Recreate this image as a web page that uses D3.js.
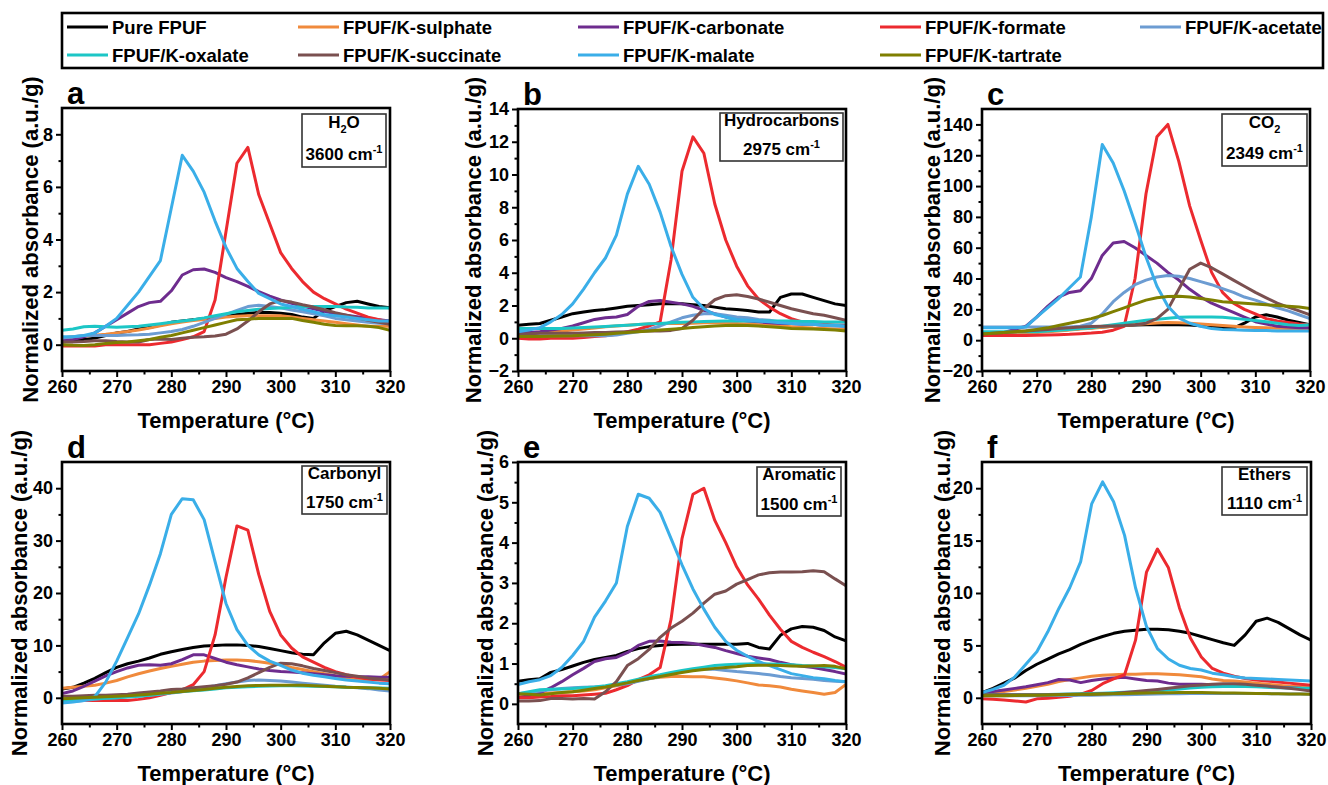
<!DOCTYPE html>
<html>
<head>
<meta charset="utf-8">
<script src="https://cdn.jsdelivr.net/npm/d3@7"></script>
<style>
  html, body { margin: 0; padding: 0; background: #fff; }
  svg { display: block; font-family: "Liberation Sans", Arial, sans-serif; font-weight: bold; }
</style>
</head>
<body>
<svg id="chart" width="1328" height="785"></svg>
<script>
// ---------------- DATA ----------------
const temps = [260,262,264,266,268,270,272,274,276,278,280,282,284,286,288,290,292,294,296,298,300,302,304,306,308,310,312,314,316,318,320];

const seriesNames = ["Pure FPUF","FPUF/K-sulphate","FPUF/K-carbonate","FPUF/K-formate","FPUF/K-acetate",
                     "FPUF/K-oxalate","FPUF/K-succinate","FPUF/K-malate","FPUF/K-tartrate"];
const seriesColors = ["#000000","#F08A3C","#6E2C8E","#EC2A2F","#6C9CD2","#1CC6C6","#7A5050","#3AAEE8","#7F7F00"];

const xTicks = [260,270,280,290,300,310,320];
const xMinor = [265,275,285,295,305,315];

// a: H2O 3600 cm-1  (order: pure, sulphate, carbonate, formate, acetate, oxalate, succinate, malate, tartrate)
const h2oVals = [
  [0.1,0.15,0.2,0.25,0.35,0.45,0.5,0.6,0.65,0.75,0.85,0.9,0.95,1.0,1.05,1.1,1.15,1.2,1.22,1.22,1.2,1.15,1.05,1.0,1.3,1.45,1.6,1.65,1.55,1.45,1.4],
  [0.25,0.3,0.33,0.36,0.4,0.45,0.5,0.56,0.63,0.72,0.8,0.86,0.92,0.96,1.0,1.05,1.08,1.1,1.1,1.1,1.1,1.05,1.0,0.95,0.9,0.85,0.8,0.75,0.7,0.7,0.7],
  [0.15,0.2,0.3,0.45,0.7,0.95,1.2,1.45,1.6,1.65,2.05,2.65,2.85,2.88,2.75,2.55,2.4,2.22,2.02,1.85,1.7,1.57,1.47,1.37,1.27,1.18,1.12,1.06,1.0,0.95,0.9],
  [-0.05,-0.05,-0.05,-0.05,0,0,0,0,0,0.05,0.1,0.2,0.3,0.5,1.7,4.3,6.9,7.5,5.7,4.6,3.5,2.9,2.4,2.0,1.75,1.55,1.35,1.2,1.05,0.95,0.85],
  [0.25,0.3,0.35,0.35,0.35,0.35,0.37,0.38,0.4,0.45,0.5,0.58,0.7,0.85,1.0,1.15,1.3,1.45,1.5,1.45,1.4,1.32,1.25,1.18,1.1,1.0,0.95,0.9,0.85,0.82,0.8],
  [0.55,0.6,0.68,0.7,0.68,0.66,0.68,0.7,0.75,0.8,0.85,0.9,0.95,1.02,1.1,1.18,1.25,1.3,1.35,1.38,1.4,1.42,1.45,1.45,1.45,1.45,1.43,1.42,1.4,1.4,1.4],
  [0.1,0.1,0.12,0.15,0.15,0.12,0.1,0.1,0.2,0.22,0.2,0.25,0.28,0.3,0.33,0.4,0.6,0.9,1.25,1.55,1.68,1.62,1.52,1.43,1.33,1.22,1.12,1.02,0.93,0.85,0.78],
  [0.3,0.3,0.35,0.45,0.7,1.0,1.5,2.0,2.6,3.2,5.2,7.2,6.6,5.8,4.7,3.7,2.9,2.4,1.95,1.75,1.55,1.45,1.35,1.25,1.15,1.1,1.05,1.0,0.95,0.9,0.9],
  [0,-0.02,-0.03,0,0.05,0.08,0.1,0.15,0.2,0.28,0.35,0.45,0.55,0.65,0.75,0.85,0.95,0.97,1.0,1.0,1.0,1.0,0.92,0.85,0.78,0.73,0.72,0.72,0.7,0.65,0.55]
];

// b: Hydrocarbons 2975 cm-1
const hydroVals = [
  [0.8,0.85,0.9,1.1,1.3,1.5,1.6,1.7,1.75,1.85,1.95,2.0,2.05,2.1,2.1,2.1,2.05,2.0,1.9,1.8,1.75,1.7,1.6,1.6,2.5,2.7,2.7,2.5,2.3,2.1,2.0],
  [0.3,0.33,0.37,0.4,0.45,0.5,0.57,0.63,0.7,0.75,0.8,0.84,0.87,0.9,0.9,0.9,0.92,0.94,0.95,0.93,0.9,0.87,0.83,0.8,0.75,0.7,0.66,0.62,0.6,0.57,0.55],
  [0.3,0.35,0.4,0.5,0.6,0.75,0.95,1.15,1.25,1.3,1.45,1.95,2.25,2.3,2.2,2.1,1.95,1.7,1.5,1.3,1.15,1.05,1.0,0.95,0.9,0.9,0.85,0.85,0.8,0.8,0.8],
  [0,-0.05,-0.05,0,0,0,0.05,0.1,0.15,0.25,0.4,0.55,0.75,1.0,4.8,10.2,12.3,11.3,8.2,6.0,4.4,3.2,2.4,1.9,1.5,1.2,1.0,0.9,0.85,0.8,0.8],
  [0.2,0.2,0.15,0.15,0.15,0.15,0.15,0.15,0.15,0.2,0.3,0.4,0.55,0.75,1.0,1.25,1.4,1.5,1.5,1.4,1.3,1.25,1.15,1.1,1.0,0.95,0.9,0.85,0.8,0.75,0.7],
  [0.6,0.6,0.6,0.6,0.6,0.62,0.65,0.68,0.72,0.76,0.8,0.84,0.88,0.9,0.94,0.98,1.0,1.02,1.04,1.05,1.05,1.05,1.05,1.05,1.05,1.05,1.03,1.02,1.0,1.0,1.0],
  [0.25,0.28,0.3,0.3,0.3,0.3,0.32,0.35,0.35,0.38,0.4,0.42,0.45,0.45,0.48,0.6,1.1,1.8,2.35,2.6,2.65,2.55,2.4,2.2,2.0,1.8,1.65,1.5,1.4,1.25,1.1],
  [0.4,0.5,0.65,1.0,1.45,2.1,3.0,4.0,4.9,6.3,8.8,10.5,9.4,7.7,5.6,3.9,2.5,1.8,1.45,1.3,1.15,1.1,1.05,1.0,0.95,0.9,0.85,0.85,0.8,0.8,0.75],
  [0.1,0.1,0.1,0.12,0.14,0.15,0.18,0.21,0.25,0.3,0.35,0.4,0.45,0.5,0.55,0.6,0.65,0.7,0.75,0.78,0.8,0.78,0.75,0.7,0.65,0.6,0.58,0.56,0.54,0.5,0.45]
];

// c: CO2 2349 cm-1
const co2Vals = [
  [3,3.5,4,4.5,5,5.5,6,6.5,7,7.5,8,8.5,9,9.5,9.8,10,10,10,10,9.8,9.3,8.8,8.3,7.8,11,15,16.5,15,13,11.5,10],
  [3,3.3,3.6,4,4.5,5,5.5,6,6.6,7.2,7.8,8.4,9,9.6,10.2,10.7,11.2,11.4,11.3,11,10.5,10,9.5,9,8.6,8.3,8,7.8,7.6,7.5,7.5],
  [3,4,5,7,9,15,22,28,31,32,40,55,63,64,60,55,50,44,39,33,28,24,21,18,15,12,10.5,9,8.5,8,8],
  [3,3,3,3,3,3.2,3.4,3.6,3.8,4.2,4.6,5.2,6.5,9,40,95,132,140,116,87,65,44,31,24,20,17,14,12.5,11.5,10.5,10],
  [8.5,8.5,8.5,8.5,8.5,8.5,8.5,8.5,8.5,9,11,17,25,31,36,39,41,42,41.5,40,38,36,33.5,31,28,26,23.5,21,19,16.5,14],
  [5.5,5.5,5.5,5.5,5.5,5.5,6,6.5,7,7.5,8,9,10,11,12,13,13.5,14.2,14.8,15,15,15,14.8,14.2,13.5,12.8,12,11,10,9.5,10],
  [4,4.5,5,5.5,6,6.5,7,7.5,8,8.5,8.8,9,9.2,9.5,10,11,14,20,33,46,50,47,43,39,35,31,27.5,24,21.5,19,16.5],
  [8,8,8,8,8.5,15,21,27,34,41,80,127,115,97,76,54,35,22,14.5,11,9,7.5,7,6.8,6.5,6.3,6.2,6,6,6,6],
  [4,4.5,5,5.5,6,7,8,9.5,11,12.5,14,16,18.5,21,23.5,26,27.5,28.3,28.5,28,27,26,25,24.5,24,23.5,23,22.5,22,21.5,20.5]
];

// d: Carbonyl 1750 cm-1
const carbonylVals = [
  [1.7,2,2.8,3.7,4.8,5.8,6.5,7,7.6,8.3,8.8,9.2,9.6,9.9,10,10.1,10.1,10,9.8,9.4,9,8.6,8.3,8.2,10.5,12.3,12.7,12,11,10,9],
  [1.8,2,2.2,2.4,2.8,3.3,4,4.6,5.1,5.6,6,6.4,6.8,7,7.1,7.2,7.2,7.1,6.9,6.6,6.3,5.8,5.4,5,4.6,4.2,3.8,3.5,3.3,3.5,5],
  [0.8,1.3,2.2,3.2,4.2,5,5.7,6.2,6.3,6.2,6.5,7.3,8.2,8.2,7.5,6.8,6.3,5.9,5.5,5.2,5,4.9,4.8,4.6,4.4,4.2,4.1,4,4,3.9,3.9],
  [-0.5,-0.5,-0.5,-0.5,-0.5,-0.5,-0.5,-0.3,0,0.5,1,1.5,2.5,5,12,23,32.8,32,23.5,16.5,12,9.5,7.8,6.8,5.8,5,4.4,3.9,3.6,3.4,3.3],
  [-0.8,-0.7,-0.5,-0.3,-0.1,0,0.2,0.35,0.5,0.7,0.9,1.15,1.5,1.9,2.3,2.7,3,3.3,3.4,3.3,3.2,3,2.8,2.6,2.4,2.2,2.05,1.9,1.75,1.5,1.3],
  [-0.5,-0.4,-0.3,-0.2,-0.1,0,0.15,0.3,0.5,0.75,1,1.2,1.35,1.5,1.7,1.9,2,2.1,2.2,2.25,2.3,2.3,2.25,2.2,2.15,2.1,2,1.95,1.9,1.85,1.8],
  [0.3,0.3,0.4,0.5,0.5,0.6,0.7,0.9,1.1,1.3,1.6,1.7,1.9,2.1,2.3,2.6,3,3.8,4.8,5.8,6.6,6.5,6.1,5.6,5.2,4.8,4.4,4.1,3.8,3.6,3.4],
  [-1,-0.8,-0.5,0.2,3,7,11.5,16,21.5,27.5,35,38,37.8,34,26,18,13,10,8.2,7,6.2,5.3,4.7,4.3,4,3.7,3.4,3.2,3,2.8,2.7],
  [-0.2,-0.1,0,0.1,0.2,0.3,0.4,0.55,0.7,0.85,1,1.2,1.4,1.6,1.8,2,2.15,2.3,2.35,2.4,2.4,2.4,2.4,2.3,2.2,2.1,2,1.95,1.9,1.8,1.7]
];

// e: Aromatic 1500 cm-1
const aromaticVals = [
  [0.56,0.6,0.62,0.78,0.85,0.94,1.03,1.1,1.15,1.2,1.3,1.37,1.42,1.45,1.47,1.48,1.48,1.48,1.48,1.48,1.48,1.5,1.4,1.36,1.7,1.86,1.92,1.9,1.82,1.66,1.56],
  [0.19,0.22,0.25,0.27,0.28,0.3,0.32,0.35,0.4,0.45,0.5,0.57,0.63,0.66,0.68,0.68,0.67,0.67,0.64,0.61,0.57,0.52,0.47,0.45,0.42,0.36,0.32,0.28,0.24,0.28,0.48],
  [0.15,0.2,0.27,0.4,0.55,0.72,0.88,1.05,1.12,1.15,1.27,1.45,1.55,1.56,1.53,1.52,1.5,1.45,1.4,1.32,1.25,1.18,1.14,1.1,1.03,0.97,0.93,0.9,0.85,0.8,0.74],
  [0.15,0.15,0.17,0.18,0.2,0.2,0.22,0.24,0.26,0.35,0.45,0.6,0.72,0.9,2.1,4.1,5.2,5.35,4.55,4.0,3.4,2.95,2.6,2.2,1.85,1.55,1.4,1.28,1.17,1.05,0.91],
  [0.25,0.28,0.32,0.35,0.38,0.4,0.41,0.42,0.43,0.46,0.5,0.56,0.62,0.68,0.75,0.8,0.85,0.86,0.86,0.83,0.8,0.78,0.75,0.72,0.68,0.65,0.63,0.61,0.58,0.56,0.55],
  [0.25,0.3,0.35,0.36,0.37,0.38,0.4,0.42,0.45,0.5,0.55,0.61,0.67,0.72,0.78,0.83,0.87,0.91,0.95,0.97,0.98,0.99,1.0,0.99,0.98,0.97,0.95,0.94,0.92,0.9,0.87],
  [0.07,0.07,0.08,0.13,0.13,0.12,0.13,0.12,0.3,0.55,0.95,1.12,1.35,1.65,1.88,2.05,2.25,2.5,2.72,2.8,2.97,3.08,3.2,3.25,3.27,3.27,3.28,3.3,3.28,3.1,2.93],
  [0.48,0.55,0.6,0.7,0.9,1.2,1.55,2.15,2.55,3.0,4.4,5.2,5.1,4.75,4.1,3.45,2.85,2.35,1.9,1.55,1.33,1.18,1.05,0.95,0.85,0.75,0.7,0.65,0.62,0.58,0.55],
  [0.25,0.24,0.22,0.25,0.28,0.3,0.34,0.38,0.42,0.47,0.52,0.58,0.63,0.68,0.73,0.78,0.82,0.85,0.88,0.9,0.92,0.95,0.96,0.96,0.95,0.94,0.93,0.94,0.95,0.93,0.87]
];

// f: Ethers 1110 cm-1
const ethersVals = [
  [0.5,0.9,1.4,1.9,2.6,3.2,3.7,4.2,4.6,5.1,5.5,5.85,6.15,6.35,6.45,6.55,6.55,6.5,6.35,6.15,5.85,5.55,5.25,5.0,6.0,7.3,7.6,7.2,6.6,6.0,5.5],
  [0.35,0.45,0.6,0.75,0.9,1.1,1.3,1.55,1.75,1.9,2.05,2.15,2.2,2.25,2.25,2.3,2.3,2.25,2.2,2.1,2.0,1.8,1.65,1.6,1.5,1.4,1.3,1.2,1.1,1.05,1.0],
  [0.5,0.6,0.75,0.9,1.05,1.25,1.45,1.75,1.7,1.45,1.65,1.8,1.9,1.95,1.8,1.65,1.6,1.4,1.3,1.3,1.3,1.25,1.2,1.2,1.15,1.1,1.05,1.0,0.95,0.9,0.8],
  [-0.1,-0.15,-0.2,-0.3,-0.4,-0.1,-0.05,0.05,0.15,0.35,0.7,1.35,1.8,2.2,5.5,12,14.2,12.4,8.6,5.7,3.9,2.8,2.35,2.05,1.85,1.7,1.6,1.5,1.4,1.3,1.2],
  [0.2,0.2,0.2,0.2,0.2,0.2,0.21,0.22,0.23,0.24,0.25,0.27,0.29,0.3,0.32,0.35,0.37,0.38,0.39,0.4,0.4,0.4,0.4,0.4,0.4,0.4,0.39,0.38,0.37,0.36,0.35],
  [0.3,0.3,0.3,0.3,0.3,0.3,0.32,0.34,0.36,0.38,0.4,0.44,0.48,0.52,0.56,0.6,0.66,0.75,0.85,0.93,1.0,1.05,1.08,1.1,1.08,1.05,1.0,0.97,0.94,0.92,0.9],
  [0.3,0.3,0.3,0.3,0.3,0.3,0.3,0.32,0.33,0.34,0.35,0.38,0.42,0.5,0.6,0.7,0.8,0.9,1.02,1.15,1.22,1.3,1.33,1.35,1.3,1.2,1.12,1.0,0.9,0.78,0.65],
  [0.5,0.8,1.2,2.0,3.2,4.4,6.3,8.5,10.5,13,18.5,20.6,18.7,15.5,10.5,6.8,4.7,3.7,3.1,2.8,2.65,2.35,2.2,2.0,1.9,1.85,1.8,1.75,1.7,1.65,1.6],
  [0.2,0.2,0.2,0.22,0.24,0.25,0.27,0.29,0.31,0.33,0.35,0.37,0.39,0.41,0.43,0.45,0.47,0.49,0.5,0.5,0.5,0.48,0.46,0.45,0.43,0.42,0.4,0.38,0.37,0.36,0.35]
];

const panelLetters = ["a","b","c","d","e","f"];
const panelValues = [h2oVals, hydroVals, co2Vals, carbonylVals, aromaticVals, ethersVals];
const bandNames = ["H|2|O","Hydrocarbons","CO|2|","Carbonyl","Aromatic","Ethers"];
const bandWaves = ["3600","2975","2349","1750","1500","1110"];
const yDomains = [[-1,9],[-2,14],[-20,150],[-5,45],[-0.5,6],[-2.5,22.5]];
const yMajor = [[0,2,4,6,8],[-2,0,2,4,6,8,10,12,14],[-20,0,20,40,60,80,100,120,140],[0,10,20,30,40],[0,1,2,3,4,5,6],[0,5,10,15,20]];
const yMinor = [[1,3,5,7],[-1,1,3,5,7,9,11,13],[-10,10,30,50,70,90,110,130],[5,15,25,35],[0.5,1.5,2.5,3.5,4.5,5.5],[2.5,7.5,12.5,17.5]];

// ---------------- LAYOUT ----------------
const boxes = [
  {x0:62,  x1:390,  y0:108, y1:371, ylab:30, ann:[302,386,114,167]},
  {x0:518, x1:846,  y0:109, y1:371, ylab:473, ann:[720,843,113,161]},
  {x0:982, x1:1310, y0:109, y1:371, ylab:932, ann:[1222,1307,114,166]},
  {x0:62,  x1:390,  y0:462, y1:724, ylab:19, ann:[302,387,466,514]},
  {x0:518, x1:846,  y0:462, y1:724, ylab:485, ann:[757,841,467,516]},
  {x0:982, x1:1311, y0:462, y1:724, ylab:942, ann:[1222,1307,467,515]}
];

const svg = d3.select("#chart");
const fmt = v => (v < 0 ? "\u2212" + Math.abs(v) : String(v));

boxes.forEach((B, i) => {
  const g = svg.append("g");
  const x = d3.scaleLinear().domain([260, 320]).range([B.x0, B.x1]);
  const y = d3.scaleLinear().domain(yDomains[i]).range([B.y1, B.y0]);

  const clipId = "clip" + i;
  svg.append("clipPath").attr("id", clipId).append("rect")
    .attr("x", B.x0).attr("y", B.y0).attr("width", B.x1 - B.x0).attr("height", B.y1 - B.y0);

  // lines
  const line = d3.line().x((d, k) => x(temps[k])).y(d => y(d));
  const lg = g.append("g").attr("clip-path", `url(#${clipId})`);
  panelValues[i].forEach((vals, s) => {
    lg.append("path").datum(vals)
      .attr("d", line)
      .attr("fill", "none")
      .attr("stroke", seriesColors[s])
      .attr("stroke-width", 3)
      .attr("stroke-linejoin", "round");
  });

  // axes
  g.append("g").attr("transform", `translate(0,${B.y1})`)
    .call(d3.axisBottom(x).tickValues(xTicks).tickSize(6).tickPadding(3).tickFormat(d3.format("d")));
  g.append("g").attr("transform", `translate(0,${B.y1})`)
    .call(d3.axisBottom(x).tickValues(xMinor).tickSize(3.5).tickFormat(""));
  g.append("g").attr("transform", `translate(${B.x0},0)`)
    .call(d3.axisLeft(y).tickValues(yMajor[i]).tickSize(6).tickPadding(3).tickFormat(fmt));
  g.append("g").attr("transform", `translate(${B.x0},0)`)
    .call(d3.axisLeft(y).tickValues(yMinor[i]).tickSize(3.5).tickFormat(""));
  g.selectAll(".domain").remove();
  g.selectAll(".tick line").attr("stroke", "#000").attr("stroke-width", 2);
  g.selectAll(".tick text").attr("font-size", 18).attr("font-weight", "bold")
    .attr("font-family", '"Liberation Sans", Arial, sans-serif').attr("fill", "#000");

  // frame
  g.append("rect").attr("x", B.x0).attr("y", B.y0)
    .attr("width", B.x1 - B.x0).attr("height", B.y1 - B.y0)
    .attr("fill", "none").attr("stroke", "#000").attr("stroke-width", 2.6);

  // axis titles
  g.append("text").attr("x", (B.x0 + B.x1) / 2).attr("y", B.y1 + 57)
    .attr("text-anchor", "middle").attr("font-size", 22).text("Temperature (\u00B0C)");
  g.append("text")
    .attr("transform", `translate(${B.ylab},${(B.y0 + B.y1) / 2}) rotate(-90)`)
    .attr("text-anchor", "middle").attr("dy", "0.35em").attr("font-size", 22)
    .text("Normalized absorbance (a.u./g)");

  // panel letter
  g.append("text").attr("x", B.x0 + 5).attr("y", B.y0 - 4)
    .attr("font-size", 31).text(panelLetters[i]);

  // annotation box
  const [ax0, ax1, ay0, ay1] = B.ann;
  g.append("rect").attr("x", ax0).attr("y", ay0).attr("width", ax1 - ax0).attr("height", ay1 - ay0)
    .attr("fill", "#fff").attr("stroke", "#333").attr("stroke-width", 1.6);
  const cx = (ax0 + ax1) / 2;
  const h = ay1 - ay0;
  const t1 = g.append("text").attr("x", cx).attr("y", ay0 + h * 0.27).attr("dy", "0.35em")
    .attr("text-anchor", "middle").attr("font-size", 17);
  const parts = bandNames[i].split("|");
  parts.forEach((p, k) => {
    if (!p) return;
    if (k % 2 === 1) {
      t1.append("tspan").attr("font-size", 11).attr("dy", 5).text(p);
    } else {
      t1.append("tspan").attr("dy", k > 0 ? -5 : 0).text(p);
    }
  });
  const t2 = g.append("text").attr("x", cx).attr("y", ay0 + h * 0.76).attr("dy", "0.35em")
    .attr("text-anchor", "middle").attr("font-size", 17);
  t2.append("tspan").text(bandWaves[i] + " cm");
  t2.append("tspan").attr("font-size", 11).attr("dy", -7).text("-1");
});

// ---------------- LEGEND ----------------
const leg = svg.append("g");
leg.append("rect").attr("x", 62).attr("y", 13).attr("width", 1261).attr("height", 55)
  .attr("fill", "#fff").attr("stroke", "#000").attr("stroke-width", 2.6);
const legCols = [67, 298, 578, 880, 1140];
const legRows = [27, 55];
seriesNames.forEach((name, s) => {
  const col = s % 5, row = Math.floor(s / 5);
  const lx = legCols[col], ly = legRows[row];
  leg.append("line").attr("x1", lx).attr("x2", lx + 41).attr("y1", ly).attr("y2", ly)
    .attr("stroke", seriesColors[s]).attr("stroke-width", 3);
  leg.append("text").attr("x", lx + 45).attr("y", ly).attr("dy", "0.36em")
    .attr("font-size", 18.5).text(name);
});
</script>
</body>
</html>
